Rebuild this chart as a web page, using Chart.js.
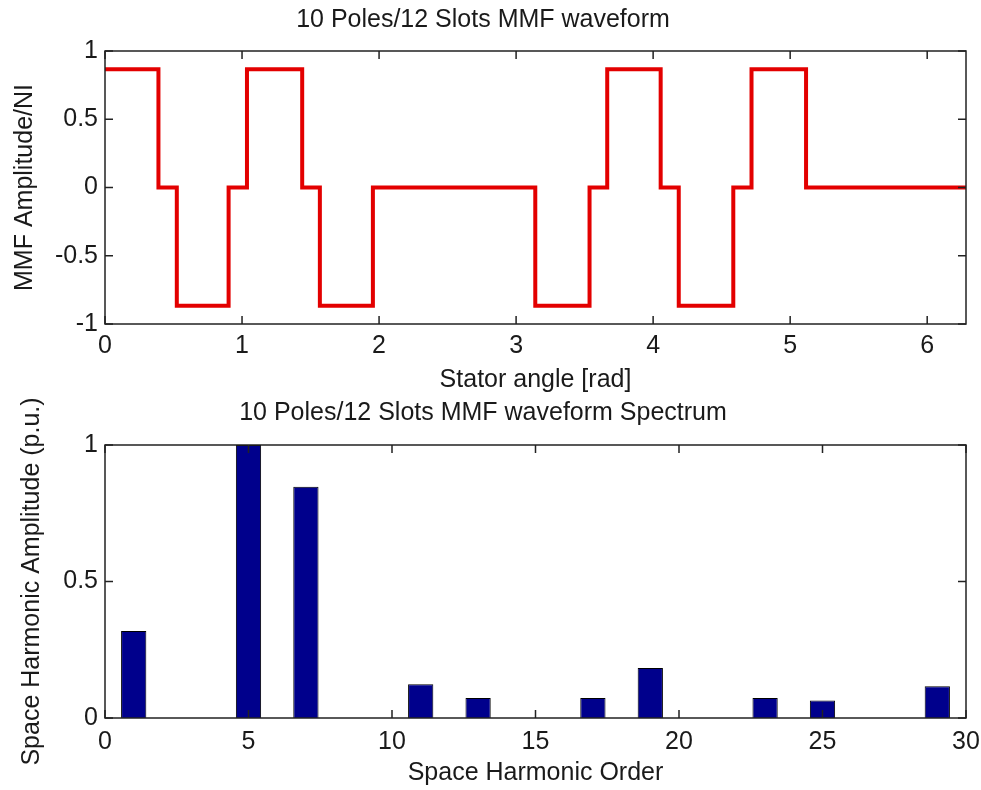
<!DOCTYPE html>
<html lang="en">
<head>
    <meta charset="UTF-8">
    <title>10 Poles/12 Slots MMF</title>
    <script src="https://cdn.jsdelivr.net/npm/chart.js"></script>
    <style>
        body { margin: 0; background: #fff; }
        canvas { display: block; }
    </style>
</head>
<body>
    <canvas id="mmf-chart" width="981" height="395"></canvas>
    <canvas id="spectrum-chart" width="981" height="395"></canvas>

    <script>
        // MMF waveform: each level holds from its edge to the next edge
        const mmfEdges = [0, 0.39, 0.524, 0.902, 1.036, 1.439, 1.568, 1.955, 3.14, 3.536, 3.665, 4.055, 4.187, 4.585, 4.718, 5.116, 6.2832];
        const mmfLevels = [0.866, 0, -0.866, 0, 0.866, 0, -0.866, 0, -0.866, 0, 0.866, 0, -0.866, 0, 0.866, 0, 0];
        const mmfXTicks = [0, 1, 2, 3, 4, 5, 6];
        const mmfYTicks = [-1, -0.5, 0, 0.5, 1];
        const mmfYLabels = ['-1', '-0.5', '0', '0.5', '1'];

        // spectrum
        const harmonicOrders = [1, 5, 7, 11, 13, 17, 19, 23, 25, 29];
        const harmonicAmps = [0.319, 1.0, 0.847, 0.124, 0.073, 0.073, 0.183, 0.073, 0.064, 0.116];
        const specXTicks = [0, 5, 10, 15, 20, 25, 30];
        const specYTicks = [0, 0.5, 1];
        const specYLabels = ['0', '0.5', '1'];

        const TXT = '#1a1a1a';
        Chart.defaults.font.family = 'Liberation Sans, Arial, sans-serif';
        Chart.defaults.font.size = 25;
        Chart.defaults.color = TXT;

        // matlab style box with inward ticks on all four sides
        const boxPlugin = {
            id: 'box',
            afterDatasetsDraw(chart) {
                const { ctx, chartArea: a, scales } = chart;
                const len = 8;
                ctx.save();
                ctx.strokeStyle = '#222';
                ctx.lineWidth = 1.5;
                ctx.strokeRect(a.left, a.top, a.right - a.left, a.bottom - a.top);
                ctx.beginPath();
                scales.x.ticks.forEach(t => {
                    const px = scales.x.getPixelForValue(t.value);
                    ctx.moveTo(px, a.bottom); ctx.lineTo(px, a.bottom - len);
                    ctx.moveTo(px, a.top); ctx.lineTo(px, a.top + len);
                });
                scales.y.ticks.forEach(t => {
                    const py = scales.y.getPixelForValue(t.value);
                    ctx.moveTo(a.left, py); ctx.lineTo(a.left + len, py);
                    ctx.moveTo(a.right, py); ctx.lineTo(a.right - len, py);
                });
                ctx.stroke();
                ctx.restore();
            }
        };

        function setTicks(list) {
            return scale => { scale.ticks = list.map(v => ({ value: v })); };
        }
        function labelFrom(values, labels) {
            return v => labels[values.indexOf(v)];
        }
        function fixHeight(h) {
            return s => { s.height = h; s.paddingLeft = 0; s.paddingRight = 0; };
        }

        // top chart: step waveform
        const mmfPoints = mmfEdges.map((x, i) => ({ x: x, y: mmfLevels[i] }));

        new Chart(document.getElementById('mmf-chart').getContext('2d'), {
            type: 'line',
            data: {
                datasets: [{
                    data: mmfPoints,
                    borderColor: '#e30000',
                    borderWidth: 4,
                    pointRadius: 0,
                    stepped: 'before',
                    fill: false,
                }],
            },
            options: {
                responsive: false,
                animation: false,
                layout: { padding: { left: 0, right: 15, top: 0, bottom: 0 } },
                plugins: {
                    legend: { display: false },
                    tooltip: { enabled: false },
                    title: {
                        display: true,
                        text: '10 Poles/12 Slots MMF waveform',
                        color: TXT,
                        font: { size: 25, weight: 'normal' },
                        padding: { top: 5, bottom: 16 },
                    },
                },
                scales: {
                    x: {
                        type: 'linear',
                        min: 0,
                        max: 6.2832,
                        afterBuildTicks: setTicks(mmfXTicks),
                        afterFit: fixHeight(71),
                        grid: { display: false, drawTicks: false },
                        border: { display: false },
                        ticks: { padding: 7, maxRotation: 0, autoSkip: false },
                        title: { display: true, text: 'Stator angle [rad]', padding: { top: 0, bottom: 0 } },
                    },
                    y: {
                        min: -1,
                        max: 1,
                        afterBuildTicks: setTicks(mmfYTicks),
                        afterFit: s => { s.width = 105; },
                        grid: { display: false, drawTicks: false },
                        border: { display: false },
                        ticks: { padding: 7, callback: labelFrom(mmfYTicks, mmfYLabels) },
                        title: { display: true, text: 'MMF Amplitude/NI', padding: { top: 10, bottom: 0 } },
                    },
                },
            },
            plugins: [boxPlugin],
        });

        // bottom chart: harmonic spectrum
        new Chart(document.getElementById('spectrum-chart').getContext('2d'), {
            type: 'bar',
            data: {
                datasets: [{
                    data: harmonicOrders.map((h, i) => ({ x: h, y: harmonicAmps[i] })),
                    backgroundColor: '#00008c',
                    borderColor: '#000',
                    borderWidth: 1,
                    barPercentage: 0.44,
                    categoryPercentage: 1,
                }],
            },
            options: {
                responsive: false,
                animation: false,
                layout: { padding: { left: 0, right: 15, top: 0, bottom: 0 } },
                plugins: {
                    legend: { display: false },
                    tooltip: { enabled: false },
                    title: {
                        display: true,
                        text: '10 Poles/12 Slots MMF waveform Spectrum',
                        color: TXT,
                        font: { size: 25, weight: 'normal' },
                        padding: { top: 3, bottom: 17 },
                    },
                },
                scales: {
                    x: {
                        type: 'linear',
                        min: 0,
                        max: 30,
                        offset: false,
                        afterBuildTicks: setTicks(specXTicks),
                        afterFit: fixHeight(72),
                        grid: { display: false, drawTicks: false, offset: false },
                        border: { display: false },
                        ticks: { padding: 9, maxRotation: 0, autoSkip: false },
                        title: { display: true, text: 'Space Harmonic Order', padding: { top: 0, bottom: 2 } },
                    },
                    y: {
                        min: 0,
                        max: 1,
                        afterBuildTicks: setTicks(specYTicks),
                        afterFit: s => { s.width = 105; },
                        grid: { display: false, drawTicks: false },
                        border: { display: false },
                        ticks: { padding: 7, callback: labelFrom(specYTicks, specYLabels) },
                        title: { display: true, text: 'Space Harmonic Amplitude (p.u.)', padding: { top: 17, bottom: 0 } },
                    },
                },
            },
            plugins: [boxPlugin],
        });
    </script>
</body>
</html>
